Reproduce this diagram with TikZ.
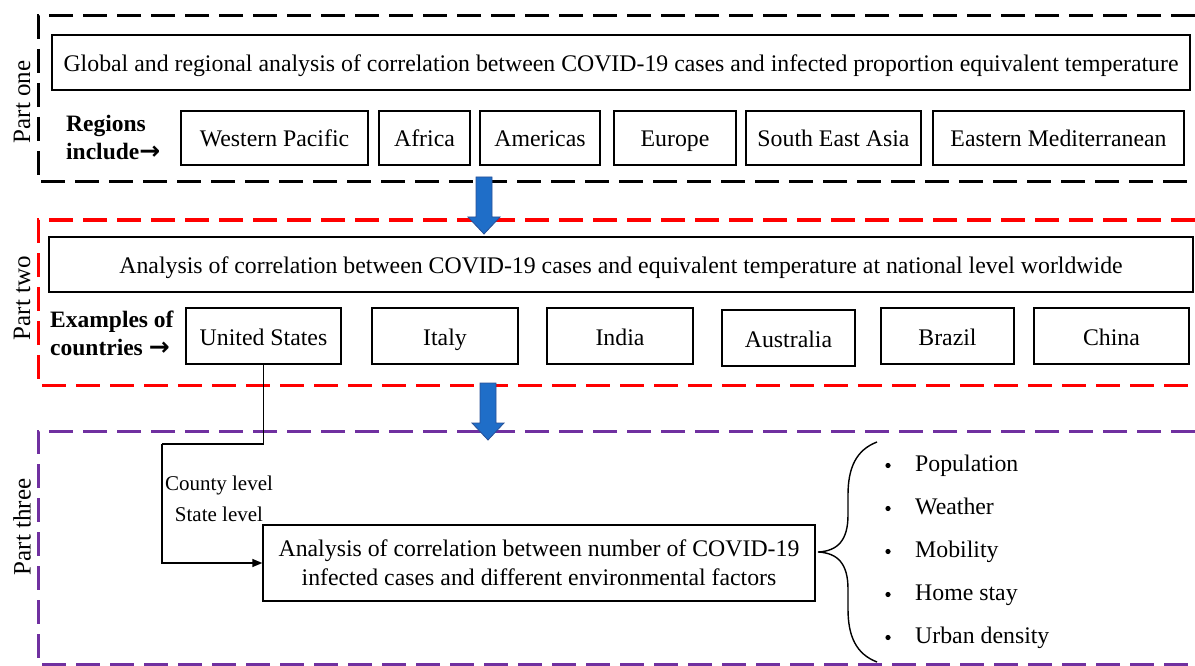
\documentclass[tikz,border=0pt]{standalone}
\usepackage{fontspec}
\setmainfont{Liberation Serif}
\newfontfamily\arrowfont{DejaVu Sans}
\usetikzlibrary{arrows.meta}

\definecolor{arrowblue}{RGB}{31,110,200}
\definecolor{arrowedge}{RGB}{40,80,150}
\definecolor{framepurple}{RGB}{112,48,160}

\begin{document}
\begin{tikzpicture}[x=1pt,y=-1pt,
	box/.style={draw, line width=1.4pt, inner sep=0pt, align=center, font=\fontsize{23.8}{29}\selectfont},
	slot/.style={box, text height=21pt, text depth=3pt},
	frame/.style={line width=3pt, dash pattern=on 24pt off 10pt},
	partlabel/.style={rotate=90, font=\fontsize{25}{30}\selectfont},
	leadin/.style={anchor=west, align=left, inner sep=0pt, font=\bfseries\fontsize{23.5}{28}\selectfont},
	levellabel/.style={inner sep=0pt, font=\fontsize{21}{25}\selectfont},
	factor/.style={anchor=west, inner sep=0pt, text height=19pt, text depth=3pt, font=\fontsize{23.8}{28}\selectfont},
	link/.style={line width=1.4pt}
	]
	\useasboundingbox (0,0) rectangle (1195,666);

	% dashed frames, open at the right
	\draw[frame] (1195,16) -| (38,182) -- (1195,182);
	\draw[frame, red] (1195,220) -| (38,385) -- (1195,385);
	\draw[frame, framepurple] (1195,431) -| (38,664) -- (1195,664);

	\node[partlabel] (p1) at (22,102) {Part one};
	\node[partlabel] (p2) at (22,298) {Part two};
	\node[partlabel] (p3) at (22,527) {Part three};

	% part one
	\node[slot, minimum width=1138pt, minimum height=55pt] (global) at (621,62.5)
		{Global and regional analysis of correlation between COVID-19 cases and infected proportion equivalent temperature};
	\node[leadin] (regions) at (66,137) {Regions\\include{\arrowfont\fontsize{25}{28}\selectfont→}};
	\foreach \name/\cx/\w/\txt in {wp/274.5/187/Western Pacific, af/424.5/91/Africa,
		am/540/120/Americas, eu/675/122/Europe, sea/833.5/175/South East Asia,
		em/1058.5/251/Eastern Mediterranean}
		\node[slot, minimum width=\w pt, minimum height=54pt] (\name) at (\cx,138) {\txt};

	% part two
	\node[slot, minimum width=1144pt, minimum height=55pt] (national) at (621,264.5)
		{Analysis of correlation between COVID-19 cases and equivalent temperature at national level worldwide};
	\node[leadin] (examples) at (50,333) {Examples of\\countries {\arrowfont\fontsize{25}{28}\selectfont→}};
	\foreach \name/\cx/\cy/\w/\txt in {us/263.5/336/155/United States, it/445/336/146/Italy,
		in/620/336/146/India, au/788.5/338/133/Australia, br/947.5/336/133/Brazil,
		cn/1111.5/336/155/China}
		\node[slot, minimum width=\w pt, minimum height=56pt] (\name) at (\cx,\cy) {\txt};

	% part three
	\node[box, minimum width=552pt, minimum height=76pt] (factors) at (539,563)
		{Analysis of correlation between number of COVID-19\\infected cases and different environmental factors};
	\coordinate (turn) at (162,444);
	\draw[link] (us.south) |- (turn);
	\draw[link, -{Triangle[length=10pt,width=8pt]}] (turn) |- (factors.west);
	\node[levellabel] (county) at (219,485) {County level};
	\node[levellabel] (state) at (219,514) {State level};

	% brace
	\draw[link] (877,442) .. controls (856,450) and (848,468) .. (848,495) -- (848,515)
		.. controls (848,540) and (838,551) .. (818,552)
		.. controls (838,553) and (848,564) .. (848,589) -- (848,609)
		.. controls (848,636) and (856,654) .. (877,662);
	\foreach \name/\fy/\txt in {pop/463/Population, wea/506/Weather, mob/549/Mobility,
		home/592/Home stay, urb/635/Urban density}
	{
		\fill (888,\fy+2.5) circle (2.6pt);
		\node[factor] (\name) at (915,\fy) {\txt};
	}

	% blue arrows between the parts
	\foreach \ax/\ay in {484/177, 488/383}
		\filldraw[fill=arrowblue, draw=arrowedge, line width=0.8pt]
			(\ax-8,\ay) -- (\ax+8,\ay) -- (\ax+8,\ay+40) -- (\ax+16,\ay+40) -- (\ax,\ay+57)
			-- (\ax-16,\ay+40) -- (\ax-8,\ay+40) -- cycle;
\end{tikzpicture}
\end{document}
